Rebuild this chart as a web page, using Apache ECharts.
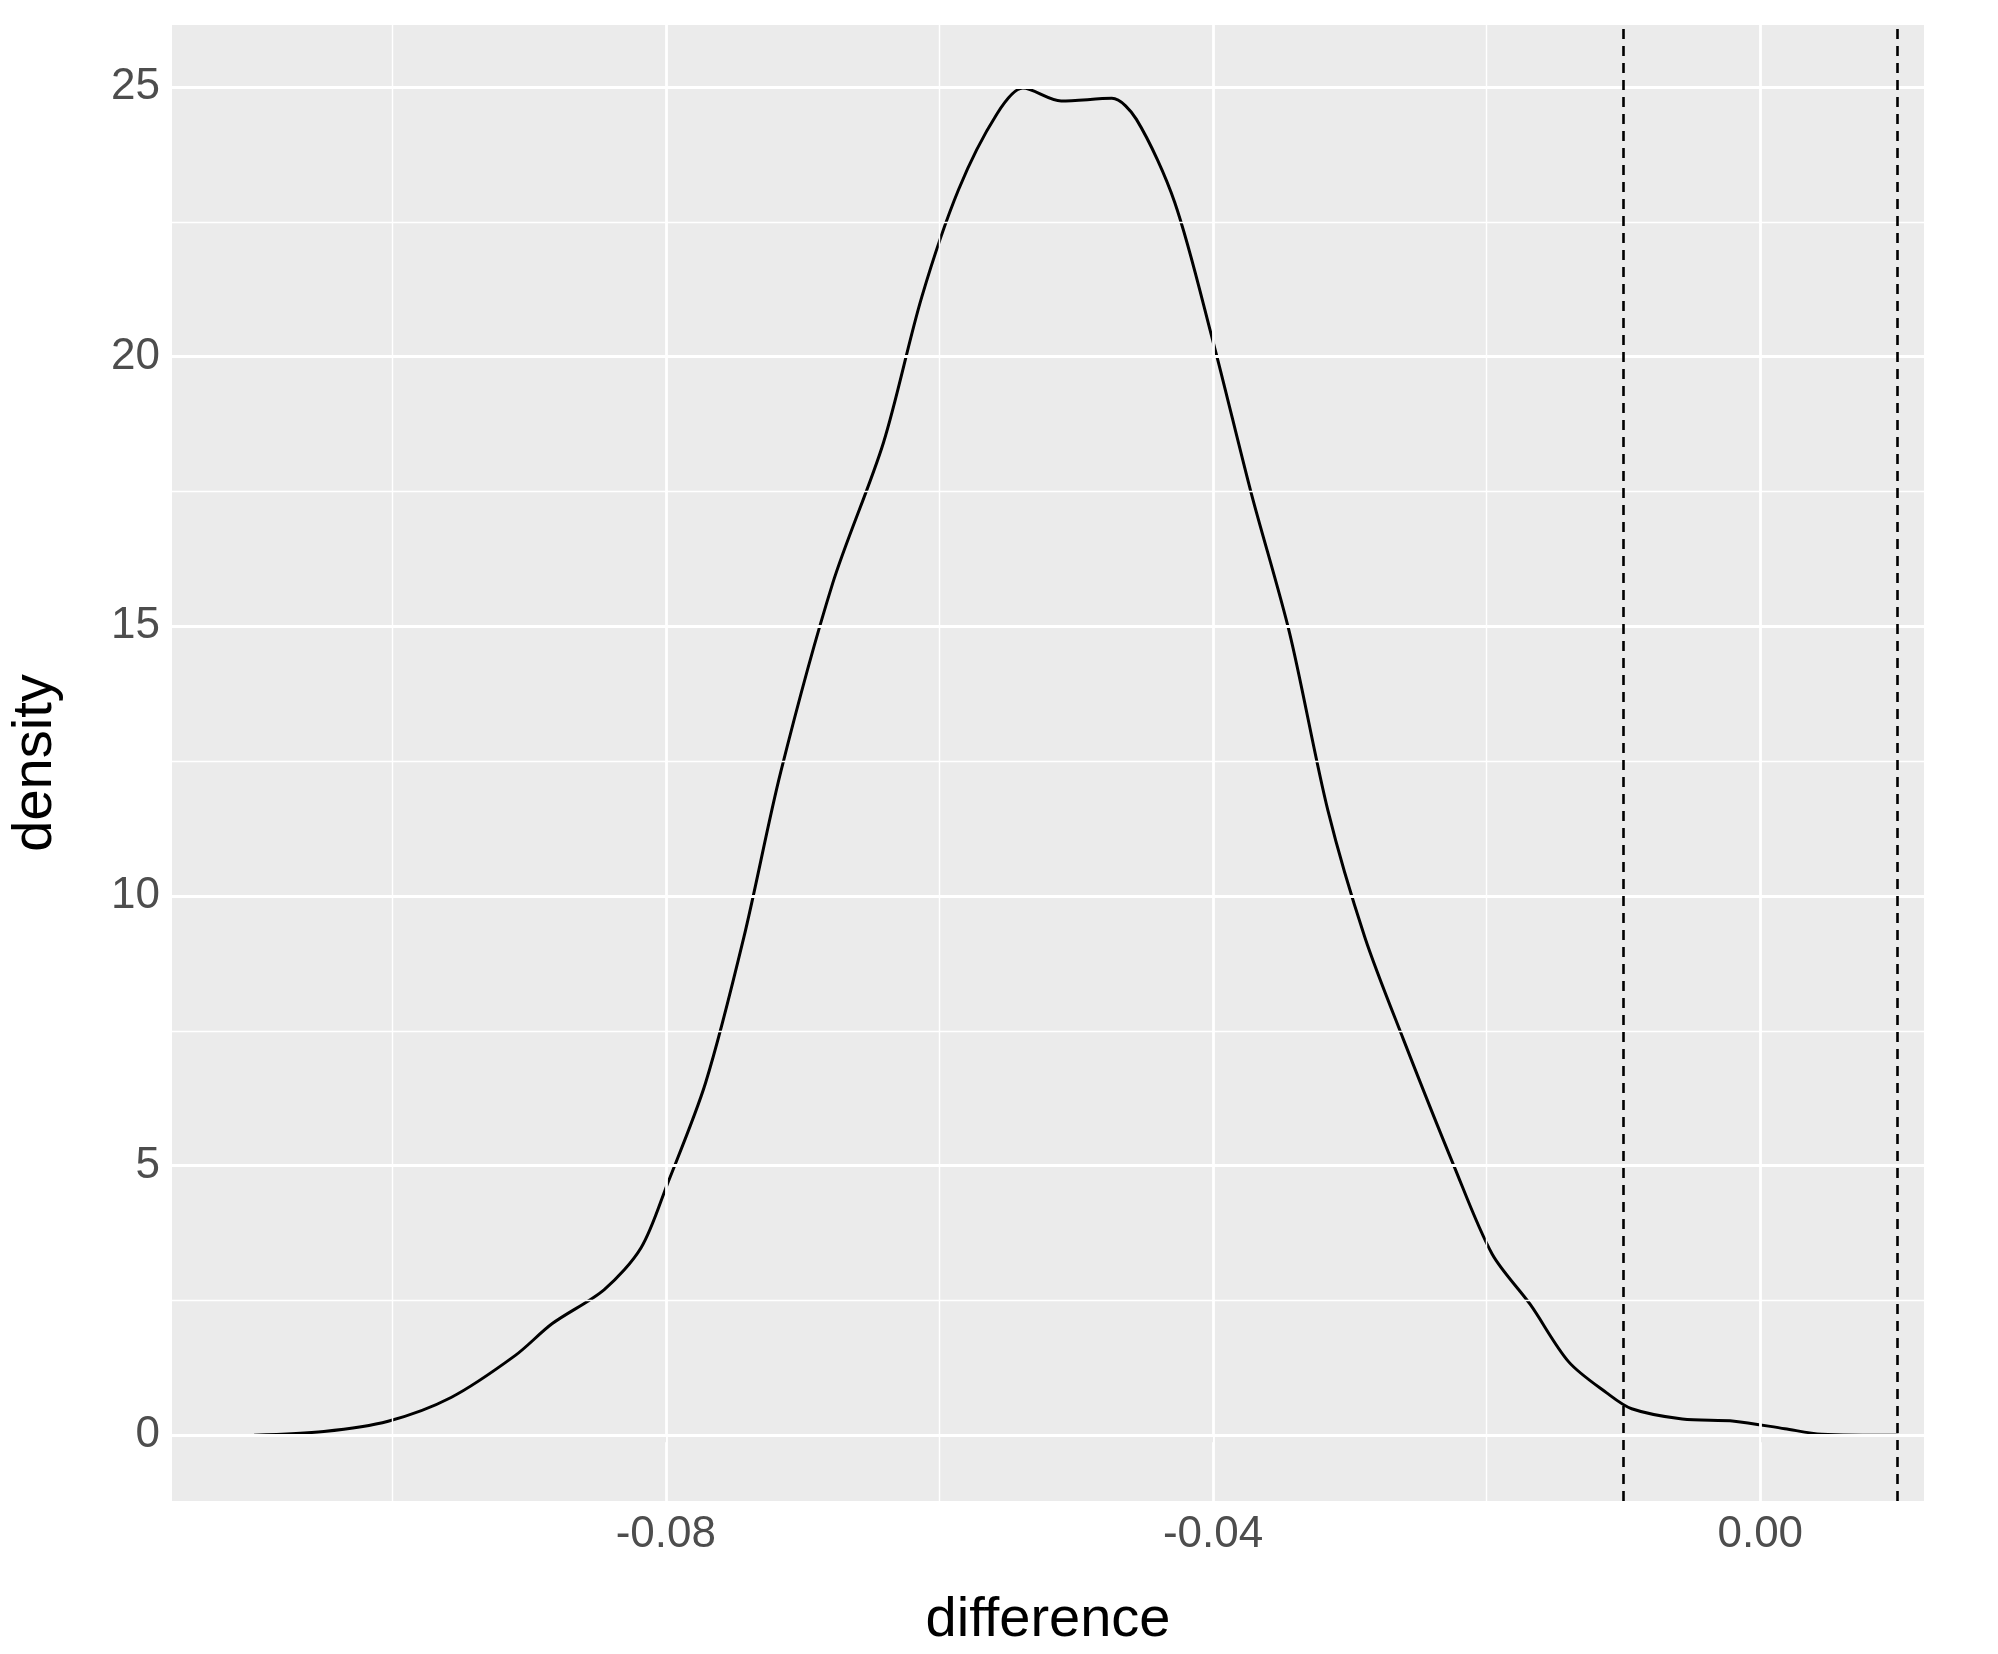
<!DOCTYPE html>
<html><head><meta charset="utf-8">
<script src="https://cdn.jsdelivr.net/npm/echarts@6/dist/echarts.min.js"></script>
<style>html,body{margin:0;padding:0;background:#fff}#c{width:1998px;height:1654px}</style>
</head><body><div id="c"></div>
<script>
const diffX = [-0.1101,-0.1050,-0.1003,-0.0957,-0.0910,-0.0883,-0.0845,-0.0818,-0.0799,-0.0771,-0.0743,-0.0716,-0.0678,-0.0641,-0.0613,-0.0586,-0.0558,-0.0539,-0.0511,-0.0474,-0.0456,-0.0428,-0.0400,-0.0372,-0.0344,-0.0316,-0.0289,-0.0261,-0.0224,-0.0196,-0.0168,-0.0140,-0.0112,-0.0094,-0.0057,-0.0019,0.0018,0.0045,0.0101];
const densityY = [0,0.07,0.26,0.7,1.48,2.07,2.7,3.48,4.65,6.53,9.23,12.3,15.8,18.4,21.1,23.1,24.5,24.98,24.74,24.79,24.4,22.86,20.28,17.46,14.87,11.58,9.23,7.35,5.0,3.36,2.42,1.36,0.78,0.49,0.3,0.26,0.12,0.02,0];
const vLines = [-0.01, 0.01];
const xTicks = [-0.08,-0.04,0.00];
const xMinor = [-0.10,-0.06,-0.02];
const yTicks = [0,5,10,15,20,25];
const yMinor = [2.5,7.5,12.5,17.5,22.5];
const xMin=-0.1161, xMax=0.01197, yMin=-1.22, yMax=26.15;
const chart = echarts.init(document.getElementById('c'));
const grid = (arr,axis,w)=>arr.map(v=>axis==='x'?{xAxis:v,lineStyle:{color:'#fff',width:w,type:'solid'}}:{yAxis:v,lineStyle:{color:'#fff',width:w,type:'solid'}});
chart.setOption({
  animation:false,
  grid:{left:166,right:74,top:25,bottom:144,backgroundColor:'#ebebeb',show:true,borderWidth:0},
  xAxis:{type:'value',min:xMin,max:xMax,splitLine:{show:false},
    axisLine:{show:false},
    axisTick:{show:true,customValues:xTicks,length:7,lineStyle:{color:'#333',width:2}},
    axisLabel:{customValues:xTicks,fontSize:44,color:'#4d4d4d',margin:12,fontFamily:'Liberation Sans',formatter:v=>v.toFixed(2)},
    name:'difference',nameLocation:'middle',nameGap:92,nameTextStyle:{fontSize:56,color:'#000',fontFamily:'Liberation Sans'}},
  yAxis:{type:'value',min:yMin,max:yMax,splitLine:{show:false},
    axisLine:{show:false},
    axisTick:{show:true,customValues:yTicks,length:7,lineStyle:{color:'#333',width:2}},
    axisLabel:{customValues:yTicks,fontSize:44,color:'#4d4d4d',margin:12,fontFamily:'Liberation Sans'},
    name:'density',nameLocation:'middle',nameGap:108,nameTextStyle:{fontSize:56,color:'#000',fontFamily:'Liberation Sans'}},
  series:[
    {type:'line',data:[],markLine:{silent:true,symbol:'none',label:{show:false},
      data:[...grid(xMinor,'x',1.4),...grid(yMinor,'y',1.4),...grid(xTicks,'x',2.8),...grid(yTicks,'y',2.8)]}},
    {type:'line',data:diffX.map((x,i)=>[x,densityY[i]]),smooth:0.3,showSymbol:false,
      lineStyle:{color:'#000',width:3},
      markLine:{silent:true,symbol:'none',label:{show:false},
        data:vLines.map(v=>({xAxis:v,lineStyle:{color:'#000',width:2.6,type:[10,7]}}))}}
  ]
});
</script></body></html>
